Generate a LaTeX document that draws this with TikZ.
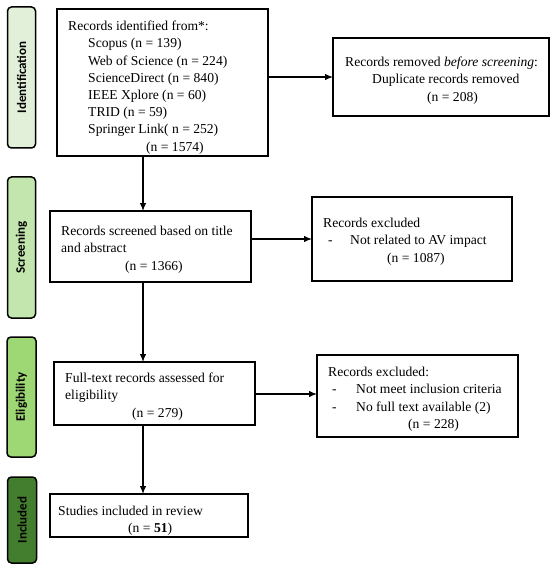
\documentclass[tikz,border=0pt]{standalone}
\usepackage{fontspec}
\setmainfont{Liberation Serif}
\newfontfamily\barfont{Carlito}[BoldFont={Carlito Bold}]
\usetikzlibrary{arrows.meta}
\definecolor{cIdent}{HTML}{E2F0D9}
\definecolor{cScreen}{HTML}{C3E6AE}
\definecolor{cElig}{HTML}{9ED874}
\definecolor{cIncl}{HTML}{437E2F}
\tikzset{
  bar/.style={draw=black, line width=1.5pt, rounded corners=4pt, inner sep=0pt, outer sep=0pt},
  barlabel/.style={rotate=90, font=\barfont\bfseries\fontsize{13}{15}\selectfont, text=black},
  box/.style={draw=black, line width=1.2pt, inner sep=0pt, outer sep=0pt, anchor=north west},
  txt/.style={anchor=north west, inner sep=0pt, align=left, font=\fontsize{13.6}{17.2}\selectfont},
  arr/.style={line width=1.2pt, -{Latex[length=8pt,width=6.5pt]}}
}
\begin{document}
\begin{tikzpicture}[x=1pt,y=-1pt]
\useasboundingbox (0,0) rectangle (550,569);
% side bars
\node[bar, fill=cIdent, minimum width=28pt, minimum height=141pt] (bI) at (21.5,77.5) {};
\node[barlabel] (lI) at (bI.center) {Identification};
\node[bar, fill=cScreen, minimum width=28pt, minimum height=141pt] (bS) at (21.5,247.5) {};
\node[barlabel] (lS) at (bS.center) {Screening};
\node[bar, fill=cElig, minimum width=29pt, minimum height=120pt] (bE) at (21.5,397) {};
\node[barlabel] (lE) at (bE.center) {Eligibility};
\node[bar, fill=cIncl, minimum width=29pt, minimum height=86pt] (bN) at (22,520) {};
\node[barlabel] (lN) at (bN.center) {Included};
% boxes
\node[box, minimum width=211pt, minimum height=147pt] (id) at (57,9) {};
\node[box, minimum width=216pt, minimum height=78pt] (rm) at (333,38) {};
\node[box, minimum width=201pt, minimum height=71pt] (sc) at (50,211) {};
\node[box, minimum width=200pt, minimum height=84pt] (ex1) at (312,197) {};
\node[box, minimum width=201pt, minimum height=63pt] (el) at (54,362) {};
\node[box, minimum width=201pt, minimum height=82pt] (ex2) at (317,355) {};
\node[box, minimum width=198pt, minimum height=43pt] (in) at (50,494) {};
% texts
\node[txt] (tid) at (68,21) {Records identified from*:\\
\hspace*{20pt}Scopus (n = 139)\\
\hspace*{20pt}Web of Science (n = 224)\\
\hspace*{20pt}ScienceDirect (n = 840)\\
\hspace*{20pt}IEEE Xplore (n = 60)\\
\hspace*{20pt}TRID (n = 59)\\
\hspace*{20pt}Springer Link( n = 252)\\
\hspace*{78pt}(n = 1574)};
\node[txt] (trm) at (345,57) {Records removed \emph{before screening}:\\
\hspace*{27pt}Duplicate records removed\\
\hspace*{82pt}(n = 208)};
\node[txt] (tsc) at (61,226) {Records screened based on title\\
and abstract\\
\hspace*{64pt}(n = 1366)};
\node[txt] (tex1) at (323,218) {Records excluded\\
\hspace*{5pt}\makebox[22pt][l]{-}Not related to AV impact\\
\hspace*{64pt}(n = 1087)};
\node[txt] (tel) at (65,373) {Full-text records assessed for\\
eligibility\\
\hspace*{67pt}(n = 279)};
\node[txt] (tex2) at (328,367) {Records excluded:\\
\hspace*{4pt}\makebox[24pt][l]{-}Not meet inclusion criteria\\
\hspace*{4pt}\makebox[24pt][l]{-}No full text available (2)\\
\hspace*{80pt}(n = 228)};
\node[txt] (tin) at (58,506) {Studies included in review\\
\hspace*{70pt}(n = \textbf{51})};
% arrows
\coordinate (a1) at (143,156);
\coordinate (a2) at (143,211);
\draw[arr] (a1) -- (a2);
\draw[arr] (id.east |- 0,77) -- (rm.west |- 0,77);
\draw[arr] (sc.east |- 0,239) -- (ex1.west |- 0,239);
\draw[arr] (sc.south -| a1) -- (el.north -| a1);
\draw[arr] (el.east |- 0,394) -- (ex2.west |- 0,394);
\draw[arr] (el.south -| a1) -- (in.north -| a1);
\end{tikzpicture}
\end{document}
